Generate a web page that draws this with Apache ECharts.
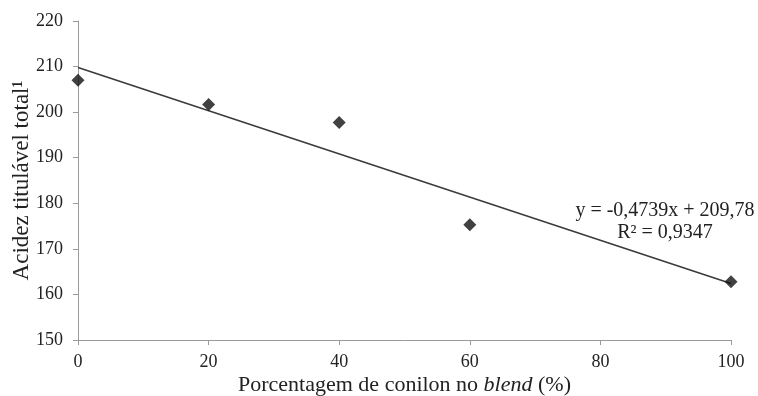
<!DOCTYPE html>
<html>
<head>
<meta charset="utf-8">
<script src="https://cdn.jsdelivr.net/npm/echarts@6/dist/echarts.min.js"></script>
<style>
html,body{margin:0;padding:0;background:#fff;}
#chart{width:758px;height:396px;}
</style>
</head>
<body>
<div id="chart"></div>
<script>
var blendPct = [0, 20, 40, 60, 100];
var acidez = [207.0, 201.7, 197.7, 175.3, 162.8];
var trendX = [0, 100];
var trendY = [209.78, 162.39];
var xTicks = [0, 20, 40, 60, 80, 100];
var yTicks = [150, 160, 170, 180, 190, 200, 210, 220];
var eqLine1 = 'y = -0,4739x + 209,78';
var eqLine2 = 'R² = 0,9347';

var font = '"Liberation Serif", "Times New Roman", serif';
var chart = echarts.init(document.getElementById('chart'));
chart.setOption({
  animation: false,
  backgroundColor: '#ffffff',
  grid: {left: 78, right: 27, top: 21, bottom: 56, containLabel: false, outerBoundsMode: 'none'},
  xAxis: {
    type: 'value', min: xTicks[0], max: xTicks[xTicks.length - 1], interval: 20,
    splitLine: {show: false},
    axisLine: {lineStyle: {color: '#9a9a9a', width: 1}},
    axisTick: {show: true, length: 5, lineStyle: {color: '#9a9a9a'}},
    axisLabel: {color: '#222', fontFamily: font, fontSize: 18, margin: 13},
    name: '{n|Porcentagem de conilon no }{i|blend}{n| (%)}',
    nameLocation: 'middle', nameGap: 34, nameMoveOverlap: false,
    nameTextStyle: {
      rich: {
        n: {fontFamily: font, fontSize: 22, color: '#222'},
        i: {fontFamily: font, fontSize: 22, color: '#222', fontStyle: 'italic'}
      }
    }
  },
  yAxis: {
    type: 'value', min: yTicks[0], max: yTicks[yTicks.length - 1], interval: 10,
    splitLine: {show: false},
    axisLine: {show: true, lineStyle: {color: '#9a9a9a', width: 1}},
    axisTick: {show: true, length: 5, lineStyle: {color: '#9a9a9a'}},
    axisLabel: {color: '#222', fontFamily: font, fontSize: 18, margin: 15},
    name: 'Acidez titulável total¹',
    nameLocation: 'middle', nameGap: 45, nameMoveOverlap: false,
    nameTextStyle: {fontFamily: font, fontSize: 23, color: '#222'}
  },
  series: [
    {
      type: 'line',
      data: trendX.map(function (x, i) { return [x, trendY[i]]; }),
      showSymbol: false, symbol: 'none',
      lineStyle: {color: '#3a3a3a', width: 1.5},
      z: 1
    },
    {
      type: 'scatter',
      data: blendPct.map(function (x, i) { return [x, acidez[i]]; }),
      symbol: 'diamond', symbolSize: 13,
      itemStyle: {color: '#111'},
      z: 3
    }
  ],
  graphic: [
    {type: 'text', x: 665, y: 211, style: {text: eqLine1, font: '20px ' + font, fill: '#222', textAlign: 'center', textVerticalAlign: 'middle'}},
    {type: 'text', x: 665, y: 233, style: {text: eqLine2, font: '20px ' + font, fill: '#222', textAlign: 'center', textVerticalAlign: 'middle'}}
  ]
});
</script>
</body>
</html>
